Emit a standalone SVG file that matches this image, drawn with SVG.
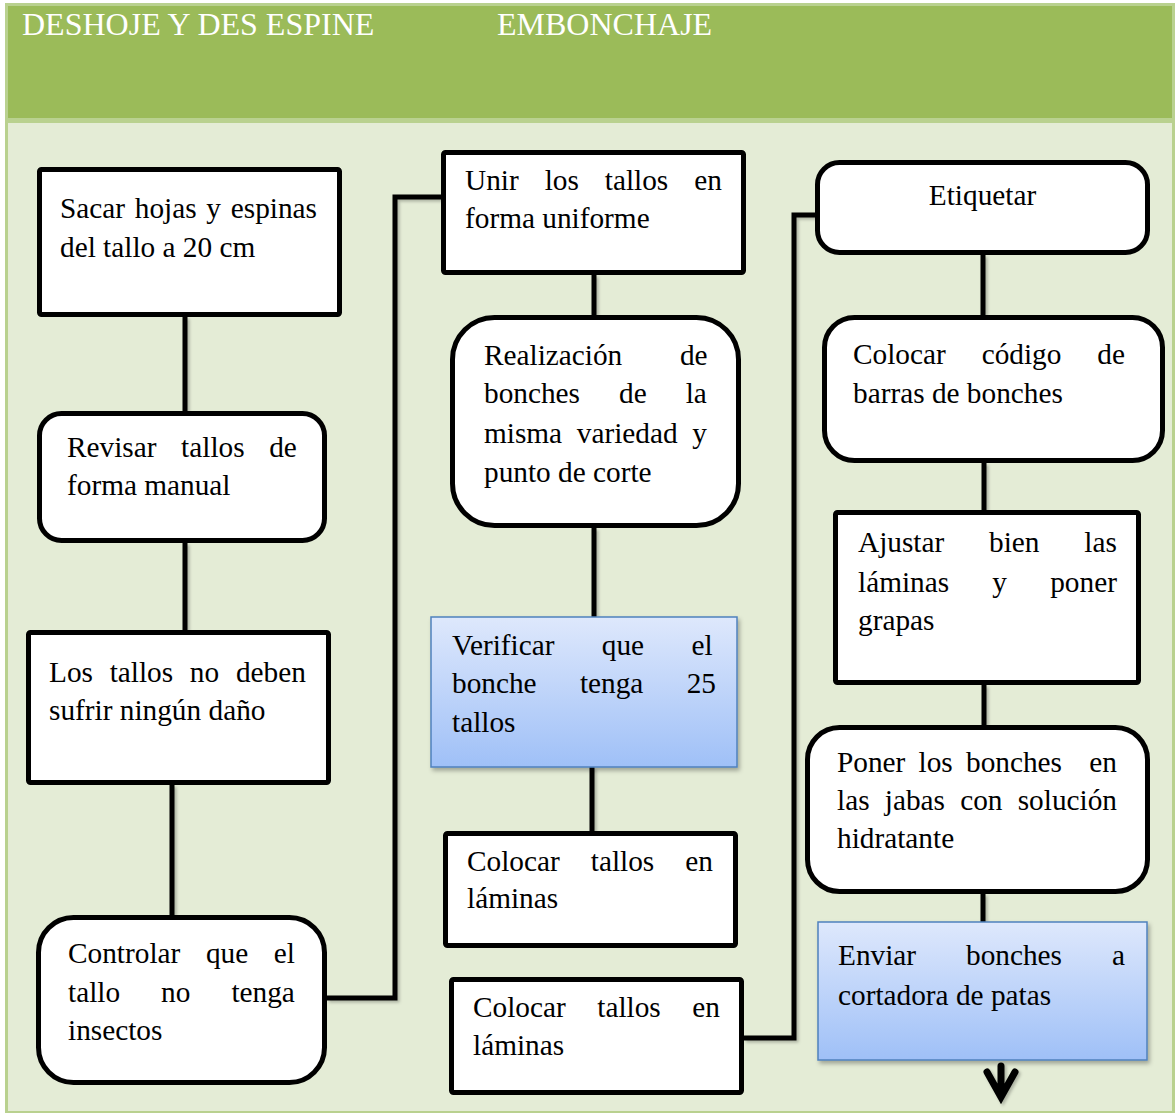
<svg xmlns="http://www.w3.org/2000/svg" width="1175" height="1115" viewBox="0 0 1175 1115">
<defs>
<linearGradient id="blueGrad" x1="0" y1="0" x2="0" y2="1">
<stop offset="0" stop-color="#dee8fc"/>
<stop offset="1" stop-color="#9fc0f7"/>
</linearGradient>
<filter id="shadow" x="-10%" y="-10%" width="130%" height="130%">
<feDropShadow dx="2" dy="3" stdDeviation="2" flood-color="#000" flood-opacity="0.3"/>
</filter>
<filter id="lshadow" filterUnits="userSpaceOnUse" x="0" y="0" width="1175" height="1115">
<feDropShadow dx="2" dy="2" stdDeviation="1.5" flood-color="#000" flood-opacity="0.25"/>
</filter>
</defs>
<style>
.box{fill:#ffffff;stroke:#000;stroke-width:5;}
.blue{fill:url(#blueGrad);stroke:#4f81bd;stroke-width:1.5;filter:url(#shadow);}
.t{font-family:"Liberation Serif","Times New Roman",serif;font-size:29.3px;fill:#000;}
.h{font-family:"Liberation Serif","Times New Roman",serif;font-size:32px;fill:#ffffff;}
.c{fill:none;stroke:#000;stroke-width:5;}
</style>
<!-- frame -->
<rect x="5" y="3" width="1170" height="1110" fill="#b9d18f"/>
<rect x="8" y="6" width="1164" height="112" fill="#9bbb59"/>
<rect x="8" y="123" width="1164" height="988" fill="#e4ecd6"/>
<g id="header">
<text class="h" x="22" y="35">DESHOJE Y DES ESPINE</text>
<text class="h" x="497" y="35">EMBONCHAJE</text>
</g>
<g id="connectors" filter="url(#lshadow)">
<path class="c" d="M185,317 V411"/>
<path class="c" d="M185,543 V630"/>
<path class="c" d="M172,785 V915"/>
<path class="c" d="M327,998 H395 V197 H443"/>
<path class="c" d="M594,275 V315"/>
<path class="c" d="M594,528 V617"/>
<path class="c" d="M592,767 V831"/>
<path class="c" d="M744,1038 H794 V215 H817"/>
<path class="c" d="M983,255 V315"/>
<path class="c" d="M984,463 V510"/>
<path class="c" d="M984,685 V725"/>
<path class="c" d="M983,894 V922"/>
<path d="M1001,1066 V1096 M987,1072 L1001,1097 L1015,1072" fill="none" stroke="#000" stroke-width="7" stroke-linecap="round" stroke-linejoin="miter"/>
</g>
<g id="n1">
<rect class="box" x="39.5" y="169.5" width="300" height="145" rx="2"/>
<text class="t" x="60" y="218" word-spacing="2.4">Sacar hojas y espinas</text>
<text class="t" x="60" y="257">del tallo a 20 cm</text>
</g>
<g id="n2">
<rect class="box" x="39.5" y="413.5" width="285" height="127" rx="22"/>
<text class="t" x="67" y="457" word-spacing="17.3">Revisar tallos de</text>
<text class="t" x="67" y="495">forma manual</text>
</g>
<g id="n3">
<rect class="box" x="28.5" y="632.5" width="300" height="150" rx="2"/>
<text class="t" x="49" y="682" word-spacing="9.4">Los tallos no deben</text>
<text class="t" x="49" y="720">sufrir ningún daño</text>
</g>
<g id="n4">
<rect class="box" x="38.5" y="917.5" width="286" height="165" rx="35"/>
<text class="t" x="68" y="963" word-spacing="18.3">Controlar que el</text>
<text class="t" x="68" y="1002" word-spacing="33.7">tallo no tenga</text>
<text class="t" x="68" y="1040">insectos</text>
</g>
<g id="n5">
<rect class="box" x="443.5" y="152.5" width="300" height="120" rx="2"/>
<text class="t" x="465" y="190" word-spacing="18.6">Unir los tallos en</text>
<text class="t" x="465" y="228">forma uniforme</text>
</g>
<g id="n6">
<rect class="box" x="452.5" y="317.5" width="286" height="208" rx="42"/>
<text class="t" x="484" y="365" word-spacing="50.3">Realización de</text>
<text class="t" x="484" y="403" word-spacing="31.7">bonches de la</text>
<text class="t" x="484" y="443" word-spacing="7.3">misma variedad y</text>
<text class="t" x="484" y="482">punto de corte</text>
</g>
<g id="n7">
<rect class="blue" x="431" y="617" width="306" height="150"/>
<text class="t" x="452" y="655" word-spacing="40">Verificar que el</text>
<text class="t" x="452" y="693" word-spacing="36">bonche tenga 25</text>
<text class="t" x="452" y="732">tallos</text>
</g>
<g id="n8">
<rect class="box" x="445.5" y="833.5" width="290" height="112" rx="2"/>
<text class="t" x="467" y="871" word-spacing="23.7">Colocar tallos en</text>
<text class="t" x="467" y="908">láminas</text>
</g>
<g id="n9">
<rect class="box" x="451.5" y="979.5" width="290" height="113" rx="2"/>
<text class="t" x="473" y="1017" word-spacing="24.2">Colocar tallos en</text>
<text class="t" x="473" y="1055">láminas</text>
</g>
<g id="n10">
<rect class="box" x="817.5" y="162.5" width="330" height="90" rx="22"/>
<text class="t" x="982.5" y="205" text-anchor="middle">Etiquetar</text>
</g>
<g id="n11">
<rect class="box" x="824.5" y="317.5" width="338" height="143" rx="30"/>
<text class="t" x="853" y="364" word-spacing="28.6">Colocar código de</text>
<text class="t" x="853" y="403">barras de bonches</text>
</g>
<g id="n12">
<rect class="box" x="835.5" y="512.5" width="303" height="170" rx="2"/>
<text class="t" x="858" y="552" word-spacing="37.5">Ajustar bien las</text>
<text class="t" x="858" y="592" word-spacing="35.9">láminas y poner</text>
<text class="t" x="858" y="630">grapas</text>
</g>
<g id="n13">
<rect class="box" x="807.5" y="727.5" width="340" height="164" rx="32"/>
<text class="t" x="837" y="772"><tspan word-spacing="5.9">Poner los bonches</tspan><tspan x="1117" text-anchor="end">en</tspan></text>
<text class="t" x="837" y="810" word-spacing="7.9">las jabas con solución</text>
<text class="t" x="837" y="848">hidratante</text>
</g>
<g id="n14">
<rect class="blue" x="818" y="922" width="329" height="138"/>
<text class="t" x="838" y="965" word-spacing="42.6">Enviar bonches a</text>
<text class="t" x="838" y="1005">cortadora de patas</text>
</g>
</svg>
